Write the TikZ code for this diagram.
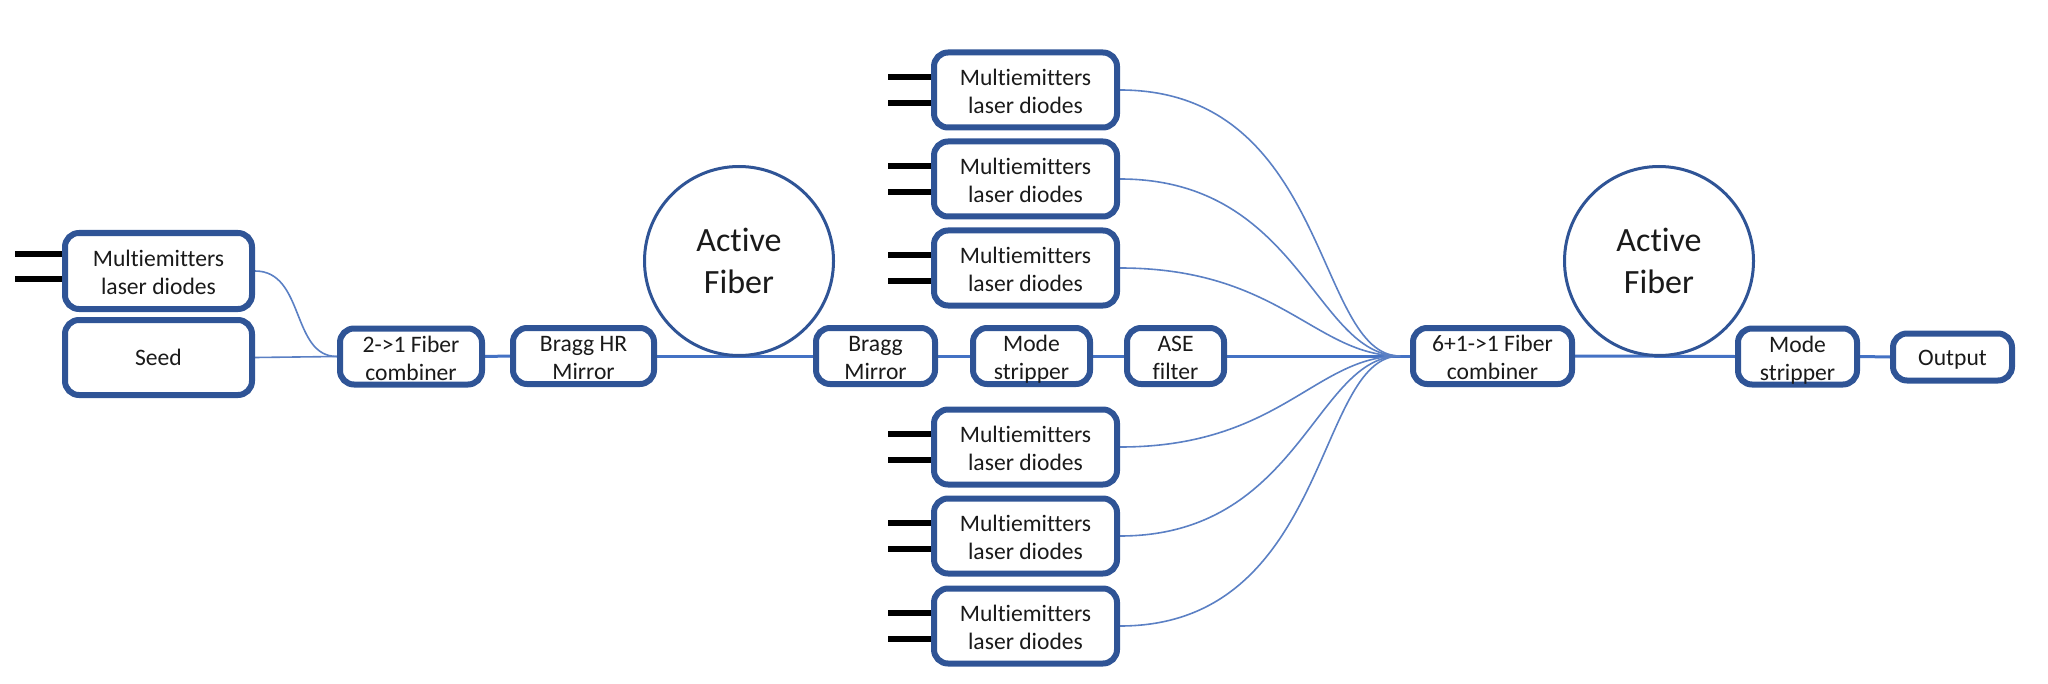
\documentclass[tikz,border=0pt]{standalone}
\usepackage{fontspec}
\setmainfont{Carlito}[Ligatures={NoCommon}]
\usetikzlibrary{backgrounds}
\definecolor{boxblue}{HTML}{2F5496}
\definecolor{fiberblue}{HTML}{4472C4}
\definecolor{thinblue}{HTML}{5B80C4}
\definecolor{txt}{HTML}{1A1A1A}
\newcommand\lowtext[1]{\raisebox{-2pt}[\height][\depth]{\begin{tabular}{@{}c@{}}#1\end{tabular}}}
\begin{document}
\begin{tikzpicture}[x=0.5pt,y=-0.5pt,
  box/.style={draw=boxblue, line width=3pt, rounded corners=7pt, fill=white,
    inner sep=0pt, align=center, text=txt, font=\fontsize{11.8}{14}\selectfont},
  mbox/.style={box, minimum width=91.5pt, minimum height=37.5pt},
  sbox/.style={box, minimum height=24.5pt},
  fibercirc/.style={circle, draw=boxblue, line width=1.5pt, minimum size=94.5pt,
    inner sep=0pt, align=center, text=txt, font=\fontsize{17}{20.8}\selectfont},
  fiber/.style={draw=fiberblue, line width=1.5pt},
  thin/.style={draw=thinblue, line width=0.8pt},
  diode/.style={draw=black, line width=3pt}
]
\useasboundingbox (0,0) rectangle (2048,684);

% left group
\node[box, minimum width=93.5pt, minimum height=38pt] (mL) at (158.5,271) {\lowtext{Multiemitters\\laser diodes}};
\node[box, minimum width=93.5pt, minimum height=37.5pt] (seed) at (158.5,357.5) {Seed};
\node[sbox, minimum width=71pt, minimum height=23.5pt] (c21) at (411,356.5) {\lowtext{2->1 Fiber\\combiner}};
\node[sbox, minimum width=70.5pt] (bhr) at (583.5,356) {\lowtext{Bragg HR\\Mirror}};
\node[fibercirc] (af1) at (739,261) {Active\\Fiber};
\node[sbox, minimum width=59.5pt] (bm) at (875.5,356) {\lowtext{Bragg\\Mirror}};
\node[sbox, minimum width=58.5pt] (ms1) at (1031.5,356) {\lowtext{Mode\\stripper}};
\node[sbox, minimum width=48.5pt] (ase) at (1175.5,356) {\lowtext{ASE\\filter}};
\node[sbox, minimum width=79.5pt, minimum height=24pt] (c61) at (1492.5,356) {\lowtext{6+1->1 Fiber\\combiner}};
\node[fibercirc] (af2) at (1659,261) {Active\\Fiber};
\node[sbox, minimum width=59.5pt, minimum height=23.5pt] (ms2) at (1797.5,356.5) {\lowtext{Mode\\stripper}};
\node[sbox, minimum width=59.5pt, minimum height=23.5pt] (out) at (1952.5,357) {\raisebox{-1.5pt}[\height][\depth]{Output}};

% pump diodes column
\node[mbox] (m1) at (1025.5,90) {\lowtext{Multiemitters\\laser diodes}};
\node[mbox] (m2) at (1025.5,179) {\lowtext{Multiemitters\\laser diodes}};
\node[mbox] (m3) at (1025.5,268) {\lowtext{Multiemitters\\laser diodes}};
\node[mbox] (m4) at (1025.5,447) {\lowtext{Multiemitters\\laser diodes}};
\node[mbox] (m5) at (1025.5,536) {\lowtext{Multiemitters\\laser diodes}};
\node[mbox] (m6) at (1025.5,626) {\lowtext{Multiemitters\\laser diodes}};

\coordinate (conv) at (1400,356);

% diode leads
\draw[diode] ([yshift=8.5pt]mL.west) -- ++(-47,0);
\draw[diode] ([yshift=-4pt]mL.west) -- ++(-47,0);
\foreach \m in {m1,m2,m3,m4,m5,m6}{
  \draw[diode] ([yshift=6.5pt]\m.west) -- ++(-43,0);
  \draw[diode] ([yshift=-6.5pt]\m.west) -- ++(-43,0);
}

\begin{scope}[on background layer]
  \draw[thin] (seed.east) -- (c21.west);
  \draw[thin] (mL.east) .. controls +(50,0) and +(-46,0) .. (c21.west);
  \draw[fiber] (c21.east) -- (bhr.west);
  \draw[fiber] (bhr.east) -- (bm.west);
  \draw[fiber] (bm.east) -- (ms1.west);
  \draw[fiber] (ms1.east) -- (ase.west);
  \draw[fiber] (ase.east) -- (conv);
  \draw[fiber] (conv) -- (c61.west);
  \draw[fiber] (c61.east) -- (ms2.west);
  \draw[fiber] (ms2.east) -- (out.west);
  \draw[thin] (m1.east) .. controls +(210,0) and +(-85,0) .. (conv);
  \draw[thin] (m2.east) .. controls +(180,0) and +(-85,0) .. (conv);
  \draw[thin] (m3.east) .. controls +(160,0) and +(-85,0) .. (conv);
  \draw[thin] (m4.east) .. controls +(160,0) and +(-85,0) .. (conv);
  \draw[thin] (m5.east) .. controls +(180,0) and +(-85,0) .. (conv);
  \draw[thin] (m6.east) .. controls +(210,0) and +(-85,0) .. (conv);
\end{scope}
\end{tikzpicture}
\end{document}
